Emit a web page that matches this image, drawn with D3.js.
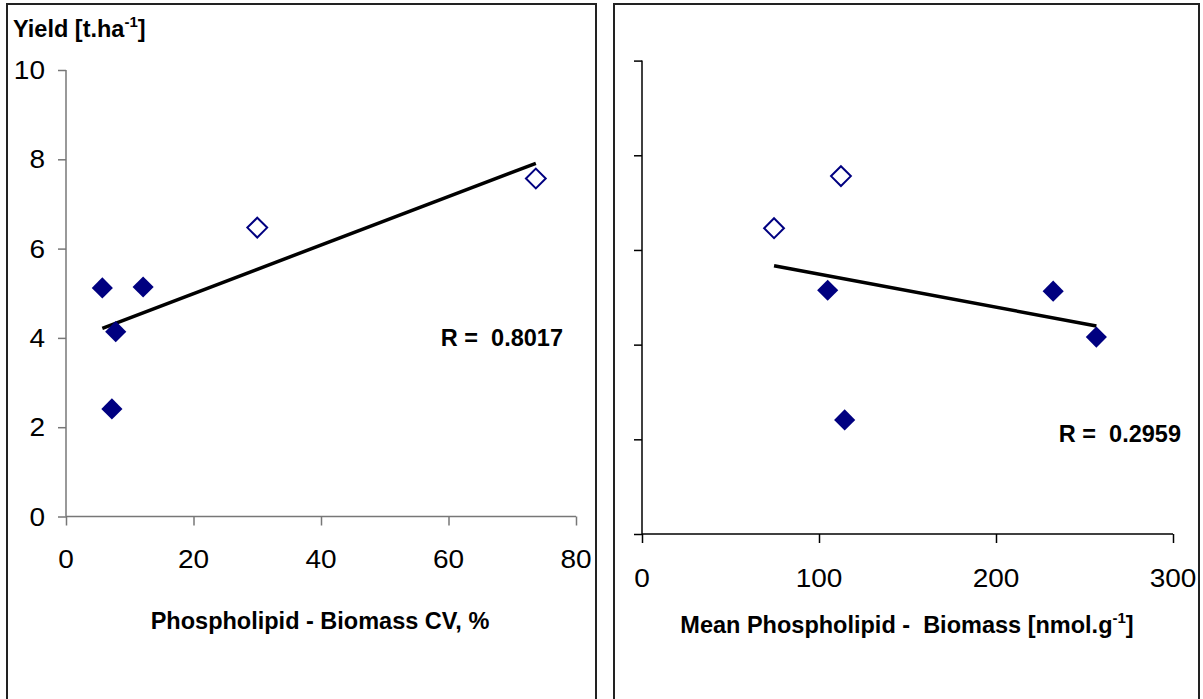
<!DOCTYPE html>
<html>
<head>
<meta charset="utf-8">
<script src="https://cdnjs.cloudflare.com/ajax/libs/d3/7.8.5/d3.min.js"></script>
<style>
    body { margin: 0; background: #fff; }
    svg text { font-family: "Liberation Sans", Arial, sans-serif; }
    .tick-label { font-size: 25px; fill: #000; }
    .title { font-size: 23.5px; font-weight: bold; fill: #000; }
</style>
</head>
<body>
<div id="chart"></div>
<script>

// yield values (t/ha) for the left panel
const yieldFilled = [5.12, 5.14, 4.14, 2.41];
const yieldOpen = [6.47, 7.57];

// left panel: phospholipid biomass CV, %
const cvFilled = [5.7, 12.1, 7.8, 7.2];
const cvOpen = [30.0, 73.7];

// right panel: mean phospholipid biomass, nmol/g
const meanFilled = [232.3, 104.9, 256.7, 114.5];
const meanFilledYield = [5.13, 5.15, 4.16, 2.41];
const meanOpen = [74.6, 112.4];
const meanOpenYield = [6.46, 7.56];

const yTicks = [0, 2, 4, 6, 8, 10];
const cvTicks = [0, 20, 40, 60, 80];
const meanTicks = [0, 100, 200, 300];

const rLeft = "R =  0.8017";
const rRight = "R =  0.2959";

// tick numbers in the original look a bit wide
const stretch = 1.12;

let svg = d3.select("#chart").append("svg")
    .attr("width", 1203)
    .attr("height", 699);

// least squares line over the points
function fitLine(xs, ys) {
    let mx = d3.mean(xs), my = d3.mean(ys);
    let sxy = d3.sum(xs, (x, i) => (x - mx) * (ys[i] - my));
    let sxx = d3.sum(xs, x => (x - mx) * (x - mx));
    let b = sxy / sxx;
    let x0 = d3.min(xs), x1 = d3.max(xs);
    return [[x0, my + b * (x0 - mx)], [x1, my + b * (x1 - mx)]];
}

function drawPanel(cfg) {
    // frame
    svg.append("rect")
        .attr("x", cfg.frame[0])
        .attr("y", cfg.frame[1])
        .attr("width", cfg.frame[2])
        .attr("height", cfg.frame[3])
        .attr("fill", "none")
        .attr("stroke", "#222")
        .attr("stroke-width", 2);

    let x = d3.scaleLinear().domain(cfg.xDomain).range([cfg.x0, cfg.x1]);
    let y = d3.scaleLinear().domain([0, 10]).range([cfg.y0, cfg.y1]);

    let g = svg.append("g");

    // axes
    let xAxis = g.append("g")
        .attr("transform", `translate(0,${cfg.y0})`)
        .call(d3.axisBottom(x).tickValues(cfg.xTicks).tickSize(9).tickFormat(""));
    let yAxis = g.append("g")
        .attr("transform", `translate(${cfg.x0},0)`)
        .call(d3.axisLeft(y).tickValues(yTicks).tickSize(8).tickFormat(""));

    [xAxis, yAxis].forEach(a => {
        a.select(".domain").attr("stroke", cfg.axisColor).attr("stroke-width", 1.5);
        a.selectAll(".tick line").attr("stroke", cfg.axisColor).attr("stroke-width", 1.5);
    });
    // Excel style: domain without outer ticks
    xAxis.select(".domain").attr("d", `M${cfg.x0},0H${cfg.x1}`);
    yAxis.select(".domain").attr("d", `M0,${cfg.y0}V${cfg.y1}`);

    g.selectAll(".xlab")
        .data(cfg.xTicks)
        .enter()
        .append("text")
        .attr("class", "tick-label")
        .attr("transform", d => `translate(${x(d)},${cfg.y0 + cfg.xLabelDy}) scale(${stretch},1)`)
        .attr("text-anchor", "middle")
        .text(d => d);

    if (cfg.yLabels) {
        g.selectAll(".ylab")
            .data(yTicks)
            .enter()
            .append("text")
            .attr("class", "tick-label")
            .attr("transform", d => `translate(${cfg.x0 - 21},${y(d) + 9}) scale(${stretch},1)`)
            .attr("text-anchor", "end")
            .text(d => d);
    }

    // trend line
    let fit = fitLine(cfg.xAll, cfg.yAll);
    g.append("line")
        .attr("x1", x(fit[0][0])).attr("y1", y(fit[0][1]))
        .attr("x2", x(fit[1][0])).attr("y2", y(fit[1][1]))
        .attr("stroke", "#000")
        .attr("stroke-width", 3.5);

    let diamond = d3.symbol().type(d3.symbolDiamond2);

    g.selectAll(".filled")
        .data(cfg.filled)
        .enter()
        .append("path")
        .attr("d", diamond.size(285)())
        .attr("transform", d => `translate(${x(d[0])},${y(d[1])})`)
        .attr("fill", "#000080");

    g.selectAll(".open")
        .data(cfg.open)
        .enter()
        .append("path")
        .attr("d", diamond.size(250)())
        .attr("transform", d => `translate(${x(d[0])},${y(d[1])})`)
        .attr("fill", "#fff")
        .attr("stroke", "#000080")
        .attr("stroke-width", 2);

    g.append("text")
        .attr("class", "title")
        .attr("x", cfg.rPos[0])
        .attr("y", cfg.rPos[1])
        .attr("text-anchor", "end")
        .style("white-space", "pre")
        .text(cfg.rText);

    let xt = g.append("text")
        .attr("class", "title")
        .attr("x", cfg.xTitlePos[0])
        .attr("y", cfg.xTitlePos[1])
        .attr("text-anchor", "middle")
        .style("white-space", "pre");
    xt.append("tspan").text(cfg.xTitle[0]);
    if (cfg.xTitle.length > 1) {
        xt.append("tspan").attr("dy", -10).style("font-size", "15px").text(cfg.xTitle[1]);
        xt.append("tspan").attr("dy", 10).text(cfg.xTitle[2]);
    }
}

drawPanel({
    frame: [7, 4, 589, 720],
    xDomain: [0, 80],
    x0: 66, x1: 576,
    y0: 516.5, y1: 70,
    xTicks: cvTicks,
    xLabelDy: 51,
    yLabels: true,
    axisColor: "#777",
    xAll: cvFilled.concat(cvOpen),
    yAll: yieldFilled.concat(yieldOpen),
    filled: cvFilled.map((d, i) => [d, yieldFilled[i]]),
    open: cvOpen.map((d, i) => [d, yieldOpen[i]]),
    rText: rLeft,
    rPos: [563, 346],
    xTitle: ["Phospholipid - Biomass CV, %"],
    xTitlePos: [320, 629]
});

drawPanel({
    frame: [614, 4, 585, 720],
    xDomain: [0, 300],
    x0: 642, x1: 1173,
    y0: 534, y1: 60.6,
    xTicks: meanTicks,
    xLabelDy: 53,
    yLabels: false,
    axisColor: "#000",
    xAll: meanFilled.concat(meanOpen),
    yAll: meanFilledYield.concat(meanOpenYield),
    filled: meanFilled.map((d, i) => [d, meanFilledYield[i]]),
    open: meanOpen.map((d, i) => [d, meanOpenYield[i]]),
    rText: rRight,
    rPos: [1181, 442],
    xTitle: ["Mean Phospholipid -  Biomass [nmol.g", "-1", "]"],
    xTitlePos: [907, 633]
});

// y axis title, left panel only
let yt = svg.append("text")
    .attr("class", "title")
    .attr("x", 13)
    .attr("y", 37);
yt.append("tspan").text("Yield [t.ha");
yt.append("tspan").attr("dy", -10).style("font-size", "15px").text("-1");
yt.append("tspan").attr("dy", 10).text("]");

</script>
</body>
</html>
